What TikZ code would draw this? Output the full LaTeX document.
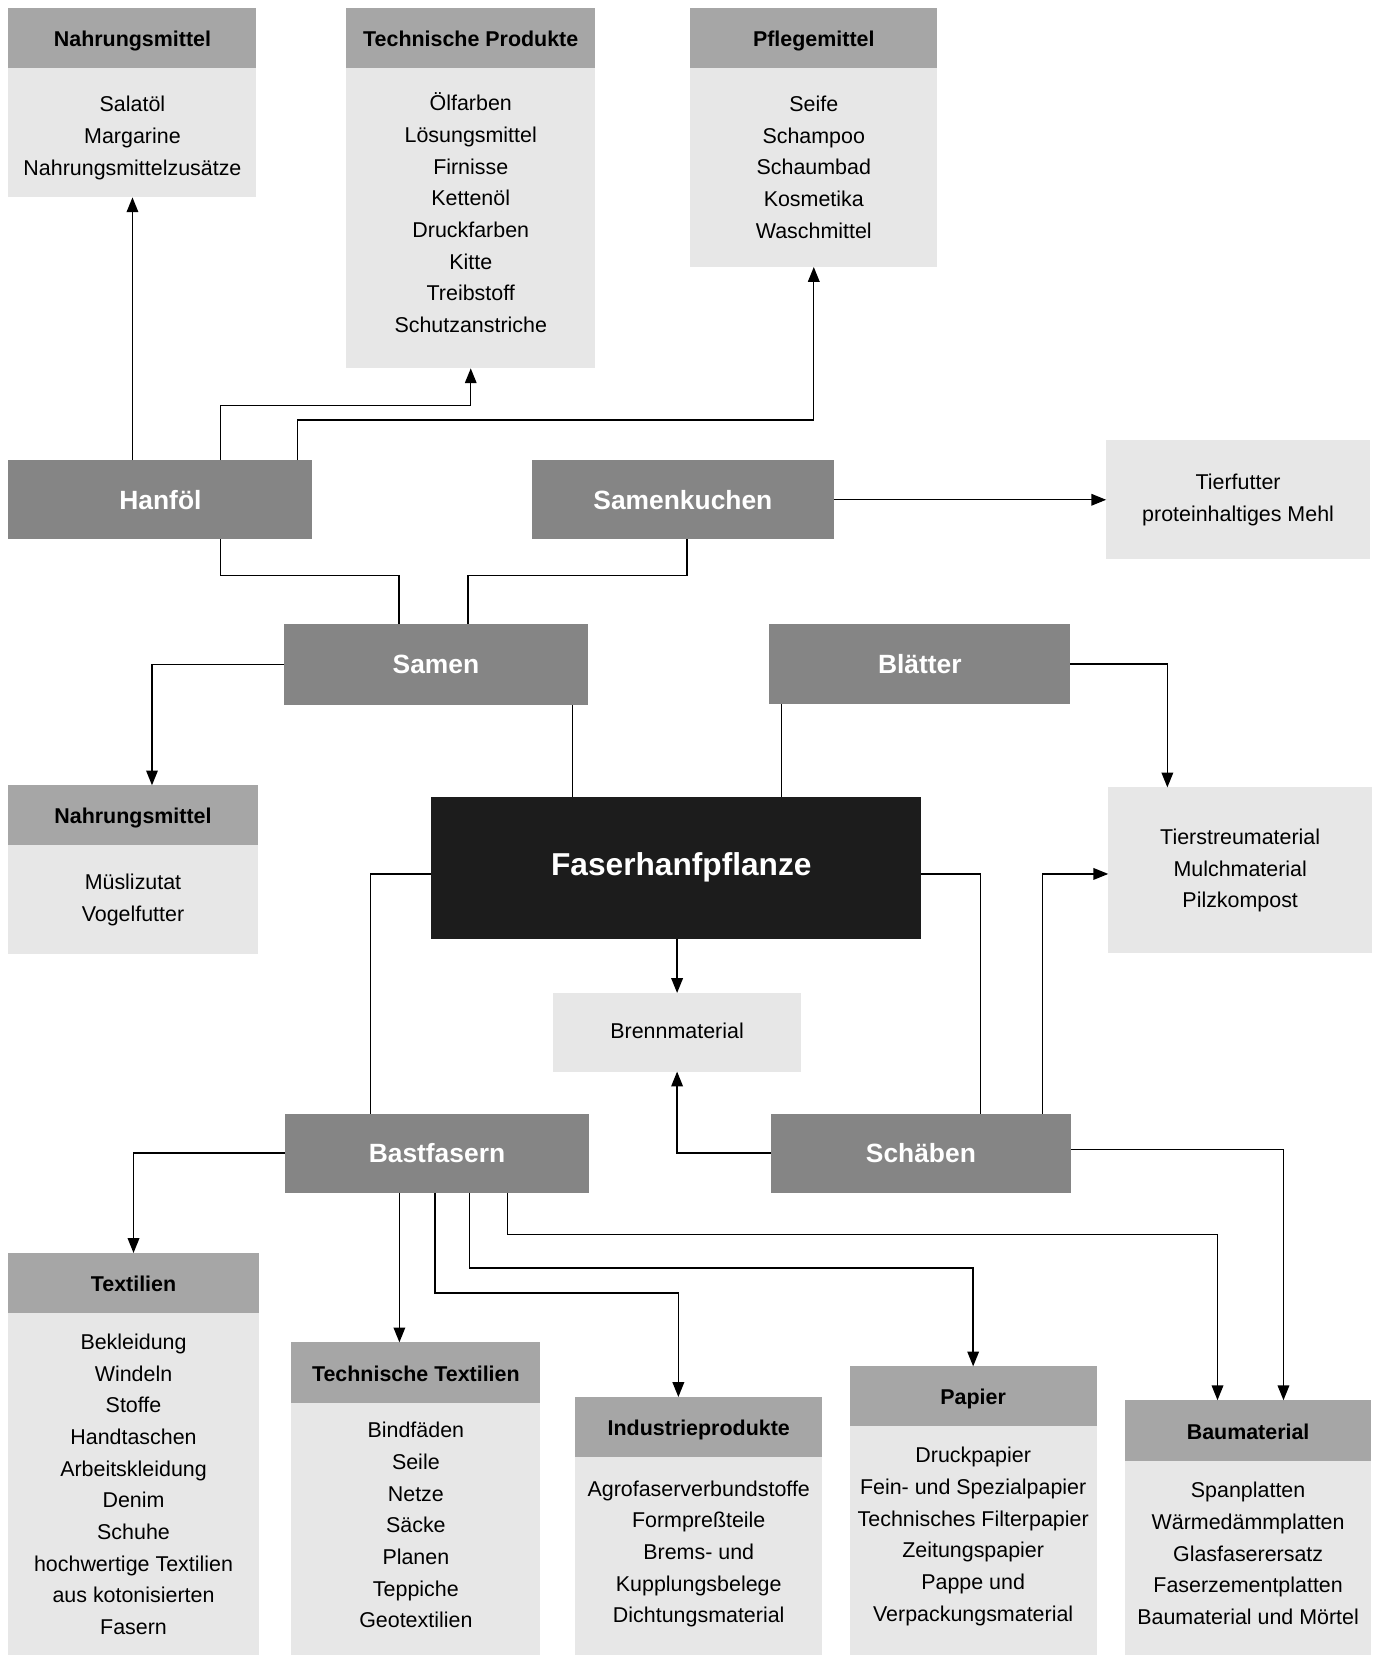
\documentclass[tikz,border=0pt]{standalone}
\usepackage{fontspec}
\setmainfont{Liberation Sans}
\usetikzlibrary{positioning,calc,arrows.meta}

\definecolor{rootgray}{gray}{0.11}
\definecolor{partgray}{gray}{0.52}
\definecolor{headgray}{gray}{0.65}
\definecolor{listgray}{gray}{0.905}

% list text: box height, width, first baseline from top, lines
\newcommand{\itemlist}[4]{\parbox[c][#1pt][t]{#2pt}{\centering\rule{0pt}{#3pt}#4}}

\begin{document}
\begin{tikzpicture}[x=1pt, y=-1pt,
    feed/.style={-{Triangle[length=14pt,width=11pt]}, line width=1.3pt},
    wire/.style={line width=1.3pt},
    partbox/.style={fill=partgray, text=white, inner sep=0pt, outer sep=0pt, font=\fontsize{25}{30}\selectfont\bfseries},
    headbox/.style={fill=headgray, inner sep=0pt, outer sep=0pt, text height=16pt, text depth=0pt, font=\fontsize{20.3}{24}\selectfont\bfseries},
    listbox/.style={fill=listgray, inner sep=0pt, outer sep=0pt, font=\fontsize{20.3}{30}\selectfont}]
    \useasboundingbox (0,0) rectangle (1308,1568);

    % products of the oil
    \node[headbox, minimum width=235pt, minimum height=56pt] (nmaHead) at (125.5,36) {Nahrungsmittel};
    \node[listbox, below=0pt of nmaHead] (nmaBody) {\itemlist{123}{235}{42}{Salatöl\\Margarine\\Nahrungsmittelzusätze}};
    \node[headbox, minimum width=236pt, minimum height=56pt] (tpHead) at (446,36) {Technische Produkte};
    \node[listbox, below=0pt of tpHead] (tpBody) {\itemlist{285}{236}{41}{Ölfarben\\Lösungsmittel\\Firnisse\\Kettenöl\\Druckfarben\\Kitte\\Treibstoff\\Schutzanstriche}};
    \node[headbox, minimum width=234pt, minimum height=56pt] (pmHead) at (771,36) {Pflegemittel};
    \node[listbox, below=0pt of pmHead] (pmBody) {\itemlist{189}{234}{41.5}{Seife\\Schampoo\\Schaumbad\\Kosmetika\\Waschmittel}};

    % plant parts
    \node[partbox, minimum width=288pt, minimum height=75pt] (hanfoel) at (152,473.5) {Hanföl};
    \node[partbox, minimum width=286pt, minimum height=75pt] (samenkuchen) at (647,473.5) {Samenkuchen};
    \node[listbox] (futter) at (1173,473.5) {\itemlist{113}{250}{47}{Tierfutter\\proteinhaltiges Mehl}};
    \node[partbox, minimum width=288pt, minimum height=77pt] (samen) at (413,629.5) {Samen};
    \node[partbox, minimum width=285pt, minimum height=76pt] (blaetter) at (871.5,629) {Blätter};
    \node[headbox, minimum width=236pt, minimum height=57pt] (nmbHead) at (126,772.5) {Nahrungsmittel};
    \node[listbox, below=0pt of nmbHead] (nmbBody) {\itemlist{103}{236}{42}{Müslizutat\\Vogelfutter}};
    \node[fill=rootgray, text=white, inner sep=0pt, outer sep=0pt, minimum width=465pt, minimum height=134.5pt,
          font=\fontsize{30}{36}\selectfont\bfseries] (faser) at (640.5,822) {\hspace*{10pt}Faserhanfpflanze};
    \node[listbox] (streu) at (1175,824.5) {\itemlist{157}{250}{54}{Tierstreumaterial\\Mulchmaterial\\Pilzkompost}};
    \node[listbox] (brenn) at (641.5,978) {\itemlist{74.5}{235}{43.4}{Brennmaterial}};
    \node[partbox, minimum width=288pt, minimum height=75pt] (bast) at (414,1092.5) {Bastfasern};
    \node[partbox, minimum width=285pt, minimum height=75pt] (schaeben) at (872.5,1092.5) {Schäben};

    % products of fibres and shives
    \node[headbox, minimum width=237pt, minimum height=56.4pt] (texHead) at (126.5,1215.3) {Textilien};
    \node[listbox, below=0pt of texHead] (texBody) {\itemlist{324.5}{237}{35.2}{Bekleidung\\Windeln\\Stoffe\\Handtaschen\\Arbeitskleidung\\Denim\\Schuhe\\hochwertige Textilien\\aus kotonisierten\\Fasern}};
    \node[headbox, minimum width=236pt, minimum height=57.5pt] (ttHead) at (394,1300.5) {Technische Textilien};
    \node[listbox, below=0pt of ttHead] (ttBody) {\itemlist{238.8}{236}{33.1}{Bindfäden\\Seile\\Netze\\Säcke\\Planen\\Teppiche\\Geotextilien}};
    \node[headbox, minimum width=234pt, minimum height=56.5pt] (indHead) at (662,1351.8) {Industrieprodukte};
    \node[listbox, below=0pt of indHead] (indBody) {\itemlist{188}{234}{37.6}{Agrofaserverbundstoffe\\Formpreßteile\\Brems- und\\Kupplungsbelege\\Dichtungsmaterial}};
    \node[headbox, minimum width=234pt, minimum height=56.8pt] (papHead) at (922,1322.9) {Papier};
    \node[listbox, below=0pt of papHead] (papBody) {\itemlist{216.7}{234}{34.7}{Druckpapier\\Fein- und Spezialpapier\\Technisches Filterpapier\\Zeitungspapier\\Pappe und\\Verpackungsmaterial}};
    \node[headbox, minimum width=233pt, minimum height=57.6pt] (bauHead) at (1182.5,1355.4) {Baumaterial};
    \node[listbox, below=0pt of bauHead] (bauBody) {\itemlist{183.8}{233}{34.9}{Spanplatten\\Wärmedämmplatten\\Glasfaserersatz\\Faserzementplatten\\Baumaterial und Mörtel}};

    % connections
    \draw[feed] (hanfoel.north -| nmaBody.south) -- (nmaBody.south);
    \draw[feed] ($(hanfoel.north)+(57,0)$) |- ($(tpBody.south)+(0,35)$) -- (tpBody.south);
    \draw[feed] ($(hanfoel.north)+(130,0)$) |- ($(pmBody.south)+(0,145)$) -- (pmBody.south);
    \draw[wire] ($(hanfoel.south)+(57,0)$) -- ++(0,34) -| ($(samen.north)+(-35,0)$);
    \draw[wire] ($(samenkuchen.south)+(4,0)$) -- ++(0,34) -| ($(samen.north)+(30.5,0)$);
    \draw[feed] (samenkuchen.east) -- (futter.west);
    \draw[feed] (samen.west) -| ($(nmbHead.north)+(18,0)$);
    \draw[wire] ($(samen.south)+(129.5,0)$) -- ($(faser.north)+(-98,0)$);
    \draw[wire] ($(blaetter.south)+(-131,0)$) -- ($(faser.north)+(100,0)$);
    \draw[feed] (blaetter.east) -| ($(streu.north)+(-69,0)$);
    \draw[wire] ($(faser.west)+(0,6)$) -| ($(bast.north)+(-63,0)$);
    \draw[wire] ($(faser.east)+(0,6)$) -| ($(schaeben.north)+(56.5,0)$);
    \draw[feed] ($(schaeben.north)+(115,0)$) |- ($(streu.west)+(0,3.5)$);
    \draw[feed] (faser.south -| brenn.north) -- (brenn.north);
    \draw[feed] (schaeben.west) -| (brenn.south);
    \draw[feed] ($(schaeben.east)+(0,-3.5)$) -| ($(bauHead.north)+(33.5,0)$);
    \draw[feed] (bast.west) -| (texHead.north);
    \draw[feed] ($(bast.south)+(-35.6,0)$) -- ($(ttHead.north)+(-15.6,0)$);
    \draw[feed] ($(bast.south)+(-2,0)$) -- ++(0,95) -| ($(indHead.north)+(-19.3,0)$);
    \draw[feed] ($(bast.south)+(31,0)$) -- ++(0,71.3) -| (papHead.north);
    \draw[feed] ($(bast.south)+(67,0)$) -- ++(0,39.7) -| ($(bauHead.north)+(-29,0)$);
\end{tikzpicture}
\end{document}
